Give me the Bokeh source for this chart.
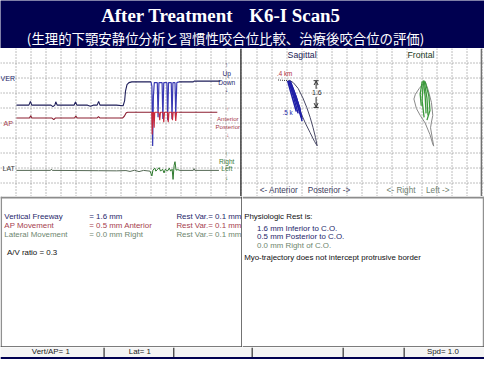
from bokeh.plotting import figure
from bokeh.layouts import column, row
from bokeh.models import Range1d, Span, BoxAnnotation, Arrow, OpenHead
from bokeh.core.properties import value
from bokeh.embed import file_html
from bokeh.resources import INLINE

# ---------------- data (time in grid divisions, displacement in divisions ~ mm) ----------------
ver_rest_t = [1.03, 1.86, 1.96, 2.05, 3.33, 3.46, 3.59, 3.65, 3.75, 4.87, 4.97, 5.06, 5.77, 5.96, 6.15,
              6.41, 6.51, 6.60, 7.69, 8.14, 8.24, 8.30, 8.40, 8.53, 8.72, 10.0]
ver_rest_y = [3.81, 3.81, 3.56, 3.81, 3.81, 3.91, 3.81, 3.59, 3.81, 3.81, 3.59, 3.81, 3.81, 3.88, 3.81,
              3.81, 3.56, 3.81, 3.81, 3.85, 3.53, 2.88, 2.44, 2.31, 2.26, 2.26]
ver_chew_t = [10.0, 10.06, 10.11, 10.16, 10.22, 10.42, 10.47, 10.53, 10.74, 10.79, 10.85, 11.06, 11.11,
              11.17, 11.35, 11.40, 11.46, 11.60, 11.65, 11.72, 11.86]
ver_chew_y = [2.26, 2.56, 6.54, 3.21, 2.31, 2.31, 4.62, 2.31, 2.31, 4.74, 2.31, 2.31, 4.81,
              2.31, 2.31, 4.74, 2.31, 2.31, 4.49, 2.31, 2.26]
ver_post_t = [11.86, 12.82, 12.88, 14.62]
ver_post_y = [2.26, 2.26, 2.21, 2.21]

ap_rest_t = [1.03, 1.90, 1.98, 2.06, 3.40, 3.52, 3.62, 4.90, 4.99, 5.08, 6.40, 6.50, 6.60, 8.10, 8.22,
             8.35, 8.45, 10.0]
ap_rest_y = [4.67, 4.67, 4.52, 4.67, 4.67, 4.78, 4.67, 4.67, 4.54, 4.67, 4.67, 4.58, 4.67, 4.67, 4.55,
             4.32, 4.28, 4.28]
ap_chew_t = [10.0, 10.05, 10.08, 10.12, 10.17, 10.21, 10.25, 10.53, 10.58, 10.63, 10.80, 10.85, 10.90,
             11.10, 11.15, 11.20, 11.38, 11.43, 11.48, 11.60, 11.65, 11.70, 11.86]
ap_chew_y = [4.28, 4.28, 5.77, 4.30, 4.28, 5.32, 4.28, 4.28, 4.81, 4.28, 4.28, 4.94, 4.28,
             4.28, 4.94, 4.28, 4.28, 4.81, 4.28, 4.28, 4.87, 4.28, 4.28]
ap_post_t = [11.86, 14.42]
ap_post_y = [4.28, 4.28]

lat_rest_t = [1.03, 3.30, 3.36, 3.42, 6.50, 7.70, 8.33, 8.60, 8.90, 9.20, 9.50, 9.94]
lat_rest_y = [8.16, 8.16, 8.08, 8.16, 8.18, 8.19, 8.17, 8.23, 8.15, 8.24, 8.16, 8.21]
lat_chew_t = [9.94, 10.06, 10.13, 10.26, 10.32, 10.45, 10.54, 10.64, 10.77, 10.87, 10.96, 11.09, 11.22,
              11.31, 11.41, 11.47, 11.54, 11.60, 11.67, 11.79, 11.92]
lat_chew_y = [8.21, 8.53, 8.14, 8.01, 8.21, 8.08, 7.98, 8.21, 8.08, 8.33, 8.08, 8.21, 8.01,
              8.21, 8.08, 8.76, 7.82, 7.58, 8.14, 8.11, 8.16]
lat_post_t = [11.92, 12.82, 12.87, 12.92, 14.53]
lat_post_y = [8.16, 8.16, 8.04, 8.16, 8.16]

# sagittal view
sag_env_x = [19.17, 19.42, 19.74, 20.06, 20.32, 20.54, 20.74, 20.90, 21.01, 20.83, 20.54, 20.22, 19.94,
             19.65, 19.42, 19.26, 19.17]
sag_env_y = [2.15, 2.31, 2.69, 3.33, 3.97, 4.62, 5.32, 5.96, 6.52, 6.22, 5.64, 5.00, 4.36,
             3.65, 3.08, 2.56, 2.15]
sag_blue_xs = [[19.10, 19.42, 19.74], [19.17, 19.55, 19.94], [19.23, 19.62, 20.00],
               [19.04, 19.29, 19.62], [19.20, 19.49, 19.84, 20.00], [19.13, 19.36, 19.68, 19.87],
               [19.15, 19.50, 19.80, 19.97]]
sag_blue_ys = [[2.18, 3.21, 4.36], [2.18, 3.40, 4.62], [2.24, 3.27, 4.74],
               [2.18, 3.08, 4.23], [2.21, 2.95, 3.97, 4.87], [2.18, 2.69, 3.53, 4.10],
               [2.20, 3.10, 4.00, 4.55]]

# frontal view
fro_env_x = [28.21, 27.82, 27.56, 27.46, 27.63, 27.88, 28.21, 28.53, 28.72, 28.78, 28.70, 28.57, 28.63,
             28.72, 28.63, 28.40, 28.21]
fro_env_y = [2.24, 2.69, 3.08, 3.40, 4.04, 4.49, 5.00, 5.77, 6.41, 6.54, 6.09, 5.32, 4.94,
             4.49, 3.63, 2.76, 2.24]
fro_grn_xs = [[28.08, 28.21, 28.27], [28.14, 28.33, 28.40], [28.01, 27.88, 27.95],
              [28.08, 28.01, 28.14], [28.21, 28.46, 28.53, 28.33]]
fro_grn_ys = [[2.18, 3.21, 4.36], [2.18, 3.33, 4.49], [2.24, 3.08, 3.85],
              [2.18, 3.53, 4.62], [2.24, 3.21, 4.17, 4.81]]

grid_x_left = list(range(1, 17))
grid_x_right = list(range(17, 33))
grid_y = list(range(1, 10))

title_main = ["After Treatment", "K6-I Scan5"]
title_sub = "(生理的下顎安静位分析と習慣性咬合位比較、治療後咬合位の評価)"

res_labels = ["Vertical Freeway", "AP Movement", "Lateral Movement"]
res_values = ["= 1.6 mm", "= 0.5 mm Anterior", "= 0.0 mm Right"]
res_restvar = ["Rest Var.= 0.1 mm", "Rest Var.= 0.1 mm", "Rest Var.= 0.1 mm"]
av_ratio = "A/V ratio = 0.3"
rest_head = "Physiologic Rest is:"
rest_lines = ["1.6 mm Inferior to C.O.", "0.5 mm Posterior to C.O.", "0.0 mm Right of C.O."]
myo_line = "Myo-trajectory does not intercept protrusive border"
status_texts = ["Vert/AP= 1", "Lat= 1", "Spd= 1.0"]

# ---------------- layout constants ----------------
W, H = 484, 359
SX = W / 500.0
SY = H / 375.0
H_BAN, H_PAN, H_TXT, H_ST = 48, 148, 151, 12
B1 = H_BAN / SY
B2 = (H_BAN + H_PAN) / SY
B3 = (H_BAN + H_PAN + H_TXT) / SY
DIV = 15.6          # reference pixels per division
PXD = 15.0          # screen pixels per division (pixel aligned grid)

C_BAN = "#000050"
C_NAVY = "#26266a"
C_RED = "#a6404e"
C_GRN = "#6e866e"
SANS = "Liberation Sans"


def fs(px):
    return "%.1fpx" % (px * SX)


def mkfig(w, h, xr, yr, bg="white"):
    p = figure(width=w, height=h, x_range=Range1d(*xr), y_range=Range1d(*yr),
               output_backend="svg", toolbar_location=None,
               x_axis_location=None, y_axis_location=None, min_border=0)
    p.outline_line_color = None
    p.background_fill_color = bg
    p.border_fill_color = bg
    p.grid.visible = False
    return p


def add_grid(p, xticks, yticks, yr, xr):
    p.segment(x0=xticks, y0=[yr[0]] * len(xticks), x1=xticks, y1=[yr[1]] * len(xticks),
              line_color="#7c7c7c", line_dash="1 2", line_width=1)
    p.segment(x0=[xr[0]] * len(yticks), y0=yticks, x1=[xr[1]] * len(yticks), y1=yticks,
              line_color="#7c7c7c", line_dash="1 2", line_width=1)


def txt(p, xs, ys, texts, color, size, font=SANS, align="left", baseline="middle", style="normal"):
    p.text(x=xs, y=ys, text=texts, text_color=color, text_font=value(font),
           text_font_size=size, text_align=align, text_baseline=baseline,
           text_font_style=style)


# ---------------- banner ----------------
ban = mkfig(W, H_BAN, (0, 500), (B1, 0), bg=C_BAN)
txt(ban, [104, 257], [15.5, 15.5], title_main, "white", fs(19.5), font="Liberation Serif", style="bold")
txt(ban, [232.5], [39.5], [title_sub], "white", fs(13.8), font="Noto Sans CJK JP", align="center")

# ---------------- division ranges (pixel aligned grid) ----------------
y_top = 1 - 14.5 / PXD
yr_div = (y_top + H_PAN / PXD, y_top)
xr_left = (-0.5 / PXD, -0.5 / PXD + (W // 2) / PXD)
x_r0 = 17 - 14.5 / PXD
xr_right = (x_r0, x_r0 + (W // 2) / PXD)

# ---------------- trace panel ----------------
ptr = mkfig(W // 2, H_PAN, xr_left, yr_div)
add_grid(ptr, grid_x_left, grid_y, yr_div, xr_left)

ptr.line(ver_rest_t, ver_rest_y, line_color="#1e1e5a", line_width=1.1)
ptr.line(ver_post_t, ver_post_y, line_color="#1e1e5a", line_width=1.1)
ptr.line(ap_rest_t, ap_rest_y, line_color="#8c1e30", line_width=1.1)
ptr.line(ap_post_t, ap_post_y, line_color="#8c1e30", line_width=1.1)
ptr.line(lat_rest_t, lat_rest_y, line_color="#566a56", line_width=1)
ptr.line(lat_post_t, lat_post_y, line_color="#566a56", line_width=1)
ptr.line(ver_chew_t, ver_chew_y, line_color="#3a3ab4", line_width=1.2)
ptr.line(ap_chew_t, ap_chew_y, line_color="#c8283a", line_width=1.1)
ptr.line(lat_chew_t, lat_chew_y, line_color="#2e7a2e", line_width=1)

txt(ptr, [-0.03], [2.03], ["VER"], C_NAVY, fs(7.2))
txt(ptr, [0.17], [5.0], ["AP"], C_RED, fs(7.2))
txt(ptr, [0.1], [8.0], ["LAT"], "#404040", fs(7.2))
txt(ptr, [15.05] * 4, [1.07, 1.71, 2.31, 2.76], ["↑", "Up", "Down", "↓"], C_NAVY, fs(6.8), align="center")
txt(ptr, [15.12] * 4, [4.04, 4.68, 5.24, 5.77], ["↑", "Anterior", "Posterior", "↓"], C_RED, fs(6.4), align="center")
txt(ptr, [15.05] * 4, [7.05, 7.58, 8.01, 8.65], ["↑", "Right", "Left", "↓"], "#3c7a3c", fs(6.8), align="center")
ptr.add_layout(Span(location=249.5 / DIV, dimension="height", line_color="#404040", line_width=1.5))

# ---------------- sagittal / frontal panel ----------------
pxy = mkfig(W // 2, H_PAN, xr_right, yr_div)
add_grid(pxy, grid_x_right, grid_y, yr_div, xr_right)

pxy.line(sag_env_x, sag_env_y, line_color="#4a4a66", line_width=1)
pxy.multi_line(sag_blue_xs, sag_blue_ys, line_color="#2020a8", line_width=1.5)
pxy.line(fro_env_x, fro_env_y, line_color="#8a8a8a", line_width=1)
pxy.multi_line(fro_grn_xs, fro_grn_ys, line_color="#3c9a3c", line_width=1.3)

txt(pxy, [19.04], [0.45], ["Sagittal"], "#1a1a55", fs(9))
txt(pxy, [27.03], [0.45], ["Frontal"], "#1a3a1a", fs(9))
txt(pxy, [18.33], [1.71], [".4 km"], "#b03040", fs(6.5))
txt(pxy, [18.70], [4.27], [".5 k"], "#2020a8", fs(6.5))
pxy.segment(x0=[18.4], y0=[2.13], x1=[19.1], y1=[2.18], line_color="#303030", line_dash="1 1")
# freeway dimension arrow
pxy.segment(x0=[20.77, 20.77], y0=[2.18, 3.96], x1=[21.11, 21.11], y1=[2.18, 3.96],
            line_color="#303030", line_width=1)
pxy.add_layout(Arrow(end=OpenHead(size=4, line_color="#303030", line_width=1),
                     x_start=20.94, y_start=2.72, x_end=20.94, y_end=2.2,
                     line_color="#303030", line_width=1))
pxy.add_layout(Arrow(end=OpenHead(size=4, line_color="#303030", line_width=1),
                     x_start=20.94, y_start=3.27, x_end=20.94, y_end=3.94,
                     line_color="#303030", line_width=1))
txt(pxy, [20.99], [2.99], ["1.6"], "#303030", fs(7.2), align="center")

txt(pxy, [17.18, 20.38], [9.49, 9.49], ["<- Anterior", "Posterior ->"], "#404060", fs(8.5))
txt(pxy, [25.64, 28.27], [9.49, 9.49], ["<- Right", "Left ->"], "#708070", fs(8.5))
pxy.add_layout(Span(location=498.6 / DIV, dimension="height", line_color="#707070", line_width=1.5))

# ---------------- result text panels ----------------
ptl = mkfig(W // 2, H_TXT, (0, 250), (B3, B2))
row_y = [225.7, 235.0, 244.5]
row_c = [C_NAVY, C_RED, C_GRN]
for i in range(3):
    txt(ptl, [4], [row_y[i]], [res_labels[i]], row_c[i], fs(8.2))
    txt(ptl, [91.7], [row_y[i]], [res_values[i]], row_c[i], fs(8.2))
    txt(ptl, [181.7], [row_y[i]], [res_restvar[i]], row_c[i], fs(8.2))
txt(ptl, [6.7], [263.3], [av_ratio], "#101010", fs(8.2))
ptl.add_layout(Span(location=205.8, dimension="width", line_color="#8c8c8c", line_width=2))
ptl.add_layout(Span(location=0.8, dimension="height", line_color="#909090", line_width=1.5))
ptl.add_layout(Span(location=249.5, dimension="height", line_color="#404040", line_width=1.5))
ptl.add_layout(Span(location=361.9, dimension="width", line_color="#505050", line_width=1.2))

ptr2 = mkfig(W // 2, H_TXT, (250, 500), (B3, B2))
txt(ptr2, [251.7], [225.7], [rest_head], "#101010", fs(8.2))
txt(ptr2, [265, 265], [238.3, 246.3], rest_lines[:2], C_NAVY, fs(8.2))
txt(ptr2, [265], [255.7], rest_lines[2:], C_GRN, fs(8.2))
txt(ptr2, [251.7], [268.3], [myo_line], "#101010", fs(8.2))
ptr2.add_layout(Span(location=205.8, dimension="width", line_color="#8c8c8c", line_width=2))
ptr2.add_layout(Span(location=499.0, dimension="height", line_color="#909090", line_width=1.5))
ptr2.add_layout(Span(location=361.9, dimension="width", line_color="#505050", line_width=1.2))

# ---------------- status bar ----------------
pst = mkfig(W, H_ST, (0, 500), (375, B3), bg="#f4f4f4")
for sx in [107, 179, 260, 354, 417]:
    pst.add_layout(Span(location=sx, dimension="height", line_color="#303030", line_width=1.2))
txt(pst, [52, 144, 457], [366.9] * 3, status_texts, "#202020", fs(8.2), align="center")
pst.add_layout(BoxAnnotation(bottom=372.4, top=376, fill_color=C_BAN, fill_alpha=1, line_color=None))

layout = column(ban, row(ptr, pxy), row(ptl, ptr2), pst)
open("out.html", "w").write(file_html(layout, INLINE))
